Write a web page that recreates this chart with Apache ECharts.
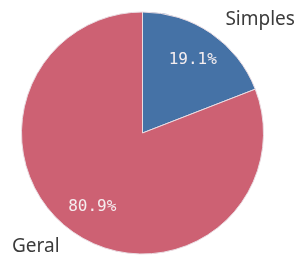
<!DOCTYPE html>
<html>
<head>
<meta charset="UTF-8">
<title>pie</title>
<style>
  html, body { margin: 0; padding: 0; background: #fff; }
  #main { width: 304px; height: 260px; }
</style>
</head>
<body>
<div id="main"></div>
<script src="https://cdn.jsdelivr.net/npm/echarts@6/dist/echarts.min.js"></script>
<script>
var names = ['Simples', 'Geral'];
var values = [19.1, 80.9];
var colors = ['#4572a6', '#cd6173'];

var myChart = echarts.init(document.getElementById('main'));

var pieData = names.map(function (n, i) {
  return { name: n, value: values[i], itemStyle: { color: colors[i] } };
});

var common = {
  type: 'pie',
  center: [142.5, 133],
  startAngle: 90,
  clockwise: true,
  avoidLabelOverlap: false,
  animation: false,
  silent: true
};

myChart.setOption({
  series: [
    // the coloured pie, with names outside
    Object.assign({}, common, {
      radius: [0, 121],
      data: pieData,
      itemStyle: { borderColor: '#eadde3', borderWidth: 1 },
      label: {
        position: 'outside',
        formatter: '{b}',
        fontFamily: 'Noto Sans',
        fontSize: 19,
        color: '#3b3b3b'
      },
      labelLine: { show: false, length: 17, length2: 0 }
    }),
    // transparent ring, only to carry the percentages a bit further out
    Object.assign({}, common, {
      radius: [52, 120],
      data: names.map(function (n, i) { return { name: n, value: values[i] }; }),
      itemStyle: { color: 'rgba(0,0,0,0)' },
      label: {
        position: 'inside',
        formatter: function (p) { return p.percent.toFixed(1) + '%'; },
        fontFamily: 'DejaVu Sans Mono',
        fontSize: 16,
        color: '#f5eef0'
      },
      labelLine: { show: false }
    })
  ]
});

window.addEventListener('resize', function () { myChart.resize(); });
</script>
</body>
</html>
